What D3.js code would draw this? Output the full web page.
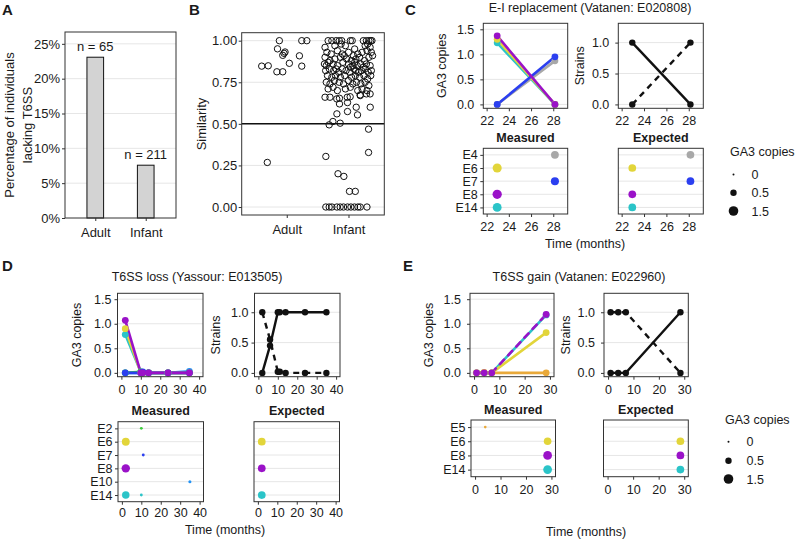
<!DOCTYPE html>
<html><head><meta charset="utf-8">
<script src="https://cdn.jsdelivr.net/npm/d3@7"></script>
<style>body{margin:0;background:#fff}</style>
</head><body>
<script>
// ---------------- DATA ----------------
// Panel A
const groupsA = ["Adult", "Infant"];
const pctLacking = [23.08, 7.58];
const nLabels = ["n = 65", "n = 211"];
const pctTicks = [0, 5, 10, 15, 20, 25];

// Panel B: [jitter offset (category units), similarity]
const simTicks = [0, 0.25, 0.5, 0.75, 1];
const adultSim = [
  [-0.12,1.0],[-0.15,0.951],[-0.044,0.924],[-0.065,0.912],[-0.028,0.932],[0.042,0.864],
  [0.205,0.909],[0.243,1.0],[0.325,1.0],[0.243,0.847],[-0.406,0.847],[-0.30,0.849],
  [-0.16,0.813],[-0.065,0.813],[-0.315,0.268]
];
const infantSim = [
  [-0.33,1.0],[-0.27,1.0],[-0.20,1.0],[-0.15,1.0],[-0.11,1.0],[0.03,1.0],[0.06,1.0],[0.24,1.0],[0.29,1.0],[0.33,1.0],[0.36,1.0],[0.38,1.0],
  [-0.38,0.96],[-0.22,0.97],[-0.12,0.98],[0.10,0.95],[0.27,0.97],[0.35,0.96],[0.31,0.98],[-0.05,0.97],
  [-0.35,0.93],[-0.28,0.92],[-0.10,0.92],[0.00,0.93],[0.08,0.91],[0.15,0.92],[0.22,0.93],[0.37,0.93],[0.30,0.94],[-0.18,0.94],
  [-0.38,0.90],[-0.30,0.88],[-0.22,0.89],[-0.13,0.90],[-0.03,0.89],[0.05,0.88],[0.12,0.89],[0.18,0.90],[0.26,0.88],[0.33,0.90],[0.39,0.91],[-0.07,0.91],
  [-0.39,0.86],[-0.36,0.85],[-0.33,0.87],[-0.25,0.86],[-0.18,0.85],[-0.09,0.87],[0.00,0.86],[0.07,0.85],[0.10,0.87],[0.14,0.85],[0.20,0.86],[0.24,0.84],[0.29,0.86],[0.35,0.85],[0.03,0.84],
  [-0.37,0.82],[-0.31,0.83],[-0.24,0.82],[-0.16,0.81],[-0.10,0.83],[-0.04,0.82],[0.02,0.81],[0.09,0.83],[0.12,0.82],[0.16,0.81],[0.21,0.82],[0.27,0.83],[0.32,0.81],[0.37,0.82],[-0.20,0.83],
  [-0.34,0.79],[-0.27,0.78],[-0.21,0.79],[-0.13,0.78],[-0.06,0.79],[0.05,0.78],[0.11,0.79],[0.18,0.78],[0.25,0.79],[0.31,0.77],[0.36,0.79],
  [-0.36,0.75],[-0.30,0.74],[-0.23,0.76],[-0.15,0.75],[-0.08,0.74],[0.00,0.76],[0.07,0.74],[0.13,0.75],[0.20,0.74],[0.27,0.75],[0.33,0.73],
  [-0.33,0.71],[-0.25,0.72],[-0.18,0.70],[-0.05,0.71],[0.03,0.72],[0.15,0.70],[0.22,0.71],[0.30,0.70],
  [-0.38,0.66],[-0.30,0.66],[-0.19,0.65],[-0.02,0.66],[0.19,0.67],[0.29,0.68],[0.35,0.68],[-0.146,0.654],[0.027,0.663],[0.19,0.674],
  [-0.146,0.62],[-0.016,0.628],[0.125,0.60],[0.352,0.60],[-0.188,0.56],[-0.016,0.574],[0.146,0.554],
  [-0.313,0.494],[-0.253,0.514],[-0.135,0.504],[0.325,0.468],[0.325,0.328],[-0.367,0.304],
  [-0.17,0.20],[-0.075,0.184],[0.016,0.094],[0.11,0.094],
  [-0.367,0],[-0.313,0],[-0.269,0],[-0.188,0],[-0.135,0],[-0.081,0],[-0.016,0],[0.039,0],[0.097,0],[0.153,0],[0.19,0],[0.299,0]
];

// Colours of the entities
const entityNames  = ["E2","E4","E5","E6","E7","E8","E10","E14"];
const entityColors = ["#3ccb3c","#a8a8a8","#e9a93a","#e2d53a","#2b3ff0","#9a12c8","#2393f5","#2bc4c8"];

// Panel C (E-I replacement)
const cTimes = [22.95, 28.15];
const cTimeTicks = [22, 24, 26, 28];
const cEntities = ["E14","E4","E6","E7","E8"];          // drawing order
const cGA3 = [[1.23,0],[0,0.87],[1.30,0],[0,0.95],[1.37,0]];
const cStrainSolid  = [1, 0];
const cStrainDashed = [0, 1];
const cRows = ["E4","E6","E7","E8","E14"];
const cExpected = [[0.85,0],[0,0.85],[0.85,0],[0,0.85],[0.85,0]]; // per cEntities

// Panel D (T6SS loss)
const dTimes = [2, 10, 11, 14, 24, 35];
const dTimeTicks = [0, 10, 20, 30, 40];
const dEntities = ["E10","E14","E2","E6","E7","E8"];
const dGA3 = [
  [0,0,0,0,0,0.03],
  [0.78,0.02,0,0,0,0],
  [0,0.02,0,0,0,0],
  [0.90,0,0,0,0,0],
  [0,0,0.02,0,0,0],
  [1.07,0,0,0,0,0]
];
const dStrainTimes  = [2, 6, 10, 11, 14, 24, 35];
const dStrainSolid  = [0, 0.45, 1, 1, 1, 1, 1];
const dStrainDashed = [1, 0.55, 0.02, 0.02, 0, 0, 0];
const dRows = ["E2","E6","E7","E8","E10","E14"];
const dExpected = [[0,0,0,0,0,0],[0.85,0,0,0,0,0],[0,0,0,0,0,0],[0.85,0,0,0,0,0],[0,0,0,0,0,0],[0.85,0,0,0,0,0]];

// Panel E (T6SS gain)
const eTimes = [1, 4, 7, 28.5];
const eTimeTicks = [0, 10, 20, 30];
const eEntities = ["E14","E5","E6","E8"];
const eGA3 = [[0,0,0,1.18],[0,0.01,0,0],[0,0,0,0.82],[0,0,0,1.19]];
const eStrainSolid  = [0, 0, 0, 1];
const eStrainDashed = [1, 1, 1, 0];
const eRows = ["E5","E6","E8","E14"];
const eExpected = [[0,0,0,0.85],[0,0,0,0],[0,0,0,0.85],[0,0,0,0.85]];

const ga3Ticks = [0, 0.5, 1.0, 1.5];
const strainTicks = [0, 0.5, 1.0];
const legendValues = [0, 0.5, 1.5];

// ---------------- DRAWING ----------------
const svg = d3.select("body").append("svg").attr("width", 800).attr("height", 539).style("display","block");
const FONT = "'Liberation Sans', Arial, Helvetica, sans-serif";
const INK = "#1a1a1a", TICKC = "#333", GRIDC = "#e6e6e6", BORDER = "#333";
const colorOf = d3.scaleOrdinal().domain(entityNames).range(entityColors);
const rSize = d3.scaleSqrt().domain([0, 1.5]).range([1, 4.8]);

function txt(x, y, s, o = {}) {
  return svg.append("text").attr("x", x).attr("y", y).text(s)
    .attr("font-family", FONT).attr("font-size", o.size || 12.5)
    .attr("font-weight", o.bold ? "bold" : "normal")
    .attr("text-anchor", o.anchor || "middle").attr("fill", o.fill || INK)
    .attr("transform", o.rot ? `rotate(-90,${x},${y})` : null);
}
function styleAxis(g, fs) {
  g.select(".domain").remove();
  g.selectAll("line").attr("stroke", TICKC);
  g.selectAll("text").attr("font-family", FONT).attr("font-size", fs).attr("fill", INK);
}
function frame(b) {
  svg.append("rect").attr("x", b.x0).attr("y", b.y0).attr("width", b.x1 - b.x0).attr("height", b.y1 - b.y0)
    .attr("fill", "none").attr("stroke", BORDER).attr("stroke-width", 1);
}
function hgrid(b, ys) {
  svg.append("g").selectAll("line").data(ys).join("line")
    .attr("x1", b.x0).attr("x2", b.x1).attr("y1", d => d).attr("y2", d => d)
    .attr("stroke", GRIDC).attr("stroke-width", 1);
}
function xAxis(b, sc, ticks, fmt, fs, pad) {
  const g = svg.append("g").attr("transform", `translate(0,${b.y1})`)
    .call(d3.axisBottom(sc).tickValues(ticks).tickFormat(fmt).tickSize(3).tickPadding(pad));
  styleAxis(g, fs);
}
function yAxis(b, sc, ticks, fmt, fs, pad) {
  const g = svg.append("g").attr("transform", `translate(${b.x0},0)`)
    .call(d3.axisLeft(sc).tickValues(ticks).tickFormat(fmt).tickSize(3).tickPadding(pad));
  styleAxis(g, fs);
}

// ---- Panel A ----
{
  const b = {x0: 65, x1: 176, y0: 32, y1: 218};
  const x = d3.scaleLinear().domain([0.4, 2.6]).range([b.x0, b.x1]);
  const y = d3.scaleLinear().domain([0, 26.7]).range([b.y1, b.y0]);
  hgrid(b, pctTicks.slice(1).map(y));
  const bw = (x(1.33) - x(1));
  svg.append("g").selectAll("rect").data(pctLacking).join("rect")
    .attr("x", (d, i) => x(i + 1) - bw / 2).attr("width", bw)
    .attr("y", d => y(d)).attr("height", d => y(0) - y(d))
    .attr("fill", "#d3d3d3").attr("stroke", "#111").attr("stroke-width", 1);
  pctLacking.forEach((d, i) => txt(x(i + 1), y(d) - 6, nLabels[i], {size: 13}));
  frame(b);
  const xa = svg.append("g").attr("transform", `translate(0,${b.y1})`)
    .call(d3.axisBottom(x).tickValues([1, 2]).tickFormat((d, i) => groupsA[i]).tickSize(3).tickPadding(7));
  styleAxis(xa, 13);
  yAxis(b, y, pctTicks, d => d + "%", 13, 2);
  txt(13.5, 125, "Percentage of individuals", {size: 13, rot: true});
  txt(31.5, 125, "lacking T6SS", {size: 13, rot: true});
  txt(2, 15, "A", {size: 15, bold: true, anchor: "start"});
}

// ---- Panel B ----
{
  const b = {x0: 241.7, x1: 384.3, y0: 32.7, y1: 215};
  const x = d3.scaleLinear().domain([0.27, 2.58]).range([b.x0, b.x1]);
  const y = d3.scaleLinear().domain([-0.048, 1.048]).range([b.y1, b.y0]);
  hgrid(b, simTicks.map(y));
  const pts = adultSim.map(d => [1 + d[0], d[1]]).concat(infantSim.map(d => [2 + d[0], d[1]]));
  svg.append("g").selectAll("circle").data(pts).join("circle")
    .attr("cx", d => x(d[0])).attr("cy", d => y(d[1])).attr("r", 3.2)
    .attr("fill", "none").attr("stroke", "#111").attr("stroke-width", 1);
  svg.append("line").attr("x1", b.x0).attr("x2", b.x1).attr("y1", y(0.5)).attr("y2", y(0.5))
    .attr("stroke", "#111").attr("stroke-width", 1.5);
  frame(b);
  const xa = svg.append("g").attr("transform", `translate(0,${b.y1})`)
    .call(d3.axisBottom(x).tickValues([1, 2]).tickFormat((d, i) => groupsA[i]).tickSize(3).tickPadding(7));
  styleAxis(xa, 13);
  yAxis(b, y, simTicks, d3.format(".2f"), 13, 1.5);
  txt(206.2, 124, "Similarity", {size: 13, rot: true});
  txt(189, 15, "B", {size: 15, bold: true, anchor: "start"});
}

// ---- generic panels for C, D, E ----
function ga3Panel(b, xDom, ticks, times, ents, vals, pad) {
  const x = d3.scaleLinear().domain(xDom).range([b.x0, b.x1]);
  const y = d3.scaleLinear().domain([-0.078, 1.62]).range([b.y1, b.y0]);
  hgrid(b, ga3Ticks.map(y));
  const g = svg.append("g");
  ents.forEach((e, i) => {
    const v = vals[i];
    for (let k = 0; k < times.length - 1; k++) {
      let overlap = false;
      for (let j = 0; j < i; j++) {
        const w = vals[j];
        if (Math.abs(w[k] - v[k]) < 0.05 && Math.abs(w[k + 1] - v[k + 1]) < 0.05 && Math.max(v[k], v[k + 1]) > 0.1) overlap = true;
      }
      g.append("line").attr("x1", x(times[k])).attr("y1", y(v[k])).attr("x2", x(times[k + 1])).attr("y2", y(v[k + 1]))
        .attr("stroke", colorOf(e)).attr("stroke-width", 2.6).attr("stroke-linecap", "round")
        .attr("stroke-dasharray", overlap ? "6,6" : null);
    }
  });
  ents.forEach((e, i) => {
    g.append("g").selectAll("circle").data(vals[i]).join("circle")
      .attr("cx", (d, k) => x(times[k])).attr("cy", d => y(d)).attr("r", 3.4).attr("fill", colorOf(e));
  });
  frame(b);
  xAxis(b, x, ticks, d3.format("d"), 12.5, 5);
  yAxis(b, y, ga3Ticks, d3.format(".1f"), 12.5, pad);
  txt(b.x0 - 37, (b.y0 + b.y1) / 2, "GA3 copies", {rot: true});
}
function strainPanel(b, xDom, ticks, times, solid, dashed, pad) {
  const x = d3.scaleLinear().domain(xDom).range([b.x0, b.x1]);
  const y = d3.scaleLinear().domain([-0.0625, 1.3125]).range([b.y1, b.y0]);
  hgrid(b, strainTicks.map(y));
  const line = d3.line().x((d, k) => x(times[k])).y(d => y(d));
  svg.append("path").attr("d", line(solid)).attr("fill", "none").attr("stroke", "#111").attr("stroke-width", 2.4);
  svg.append("path").attr("d", line(dashed)).attr("fill", "none").attr("stroke", "#111").attr("stroke-width", 2.4)
    .attr("stroke-dasharray", "6,5");
  [solid, dashed].forEach(s => svg.append("g").selectAll("circle").data(s).join("circle")
    .attr("cx", (d, k) => x(times[k])).attr("cy", d => y(d)).attr("r", 3.2).attr("fill", "#111"));
  frame(b);
  xAxis(b, x, ticks, d3.format("d"), 12.5, 5);
  yAxis(b, y, strainTicks, d3.format(".1f"), 12.5, pad);
  txt(b.x0 - 34.5, (b.y0 + b.y1) / 2, "Strains", {rot: true});
}
function dotPanel(b, xDom, ticks, times, ents, vals, rows, title, showY, pad) {
  const x = d3.scaleLinear().domain(xDom).range([b.x0, b.x1]);
  const y = d3.scalePoint().domain(rows).range([b.y0, b.y1]).padding(0.5);
  hgrid(b, rows.map(y));
  const pts = [];
  ents.forEach((e, i) => vals[i].forEach((v, k) => { if (v > 0) pts.push({e, t: times[k], v}); }));
  svg.append("g").selectAll("circle").data(pts).join("circle")
    .attr("cx", d => x(d.t)).attr("cy", d => y(d.e)).attr("r", d => rSize(d.v)).attr("fill", d => colorOf(d.e));
  frame(b);
  xAxis(b, x, ticks, d3.format("d"), 12.5, pad);
  if (showY) {
    const g = svg.append("g").attr("transform", `translate(${b.x0},0)`)
      .call(d3.axisLeft(y).tickSize(3).tickPadding(2.5));
    styleAxis(g, 12.5);
  }
  txt((b.x0 + b.x1) / 2, b.y0 - 6.5, title, {bold: true});
}
function sizeLegend(x0, yTitle, ys) {
  txt(x0, yTitle, "GA3 copies", {anchor: "start"});
  legendValues.forEach((v, i) => {
    svg.append("circle").attr("cx", x0 + 3.5).attr("cy", ys[i]).attr("r", rSize(v)).attr("fill", "#111");
    txt(x0 + 21.5, ys[i] + 4.5, String(v), {anchor: "start"});
  });
}

// ---- Panel C ----
txt(405, 15, "C", {size: 15, bold: true, anchor: "start"});
txt(590, 11.5, "E-I replacement (Vatanen: E020808)");
ga3Panel({x0: 483.3, x1: 567.7, y0: 23.3, y1: 108.3}, [21.7, 29.3], cTimeTicks, cTimes, cEntities, cGA3, 6);
strainPanel({x0: 618.3, x1: 703.3, y0: 23.3, y1: 108.3}, [21.7, 29.3], cTimeTicks, cTimes, cStrainSolid, cStrainDashed, 6);
dotPanel({x0: 483.3, x1: 567.7, y0: 148.3, y1: 214}, [21.7, 29.3], cTimeTicks, cTimes, cEntities, cGA3, cRows, "Measured", true, 5);
dotPanel({x0: 618.3, x1: 703.3, y0: 148.3, y1: 214}, [21.7, 29.3], cTimeTicks, cTimes, cEntities, cExpected, cRows, "Expected", false, 5);
txt(585, 248, "Time (months)");
sizeLegend(730, 156, [174.5, 192.7, 211]);

// ---- Panel D ----
txt(2, 271, "D", {size: 15, bold: true, anchor: "start"});
txt(197, 281, "T6SS loss (Yassour: E013505)");
ga3Panel({x0: 117.5, x1: 203, y0: 293.3, y1: 376.7}, [-2, 42], dTimeTicks, dTimes, dEntities, dGA3, 3);
strainPanel({x0: 254.5, x1: 340, y0: 293.3, y1: 376.7}, [-2, 42], dTimeTicks, dStrainTimes, dStrainSolid, dStrainDashed, 3);
dotPanel({x0: 118, x1: 203.5, y0: 421.7, y1: 501.7}, [-2, 42], dTimeTicks, dTimes, dEntities, dGA3, dRows, "Measured", true, 3);
dotPanel({x0: 254, x1: 339.5, y0: 421.7, y1: 501.7}, [-2, 42], dTimeTicks, dTimes, dEntities, dExpected, dRows, "Expected", false, 3);
txt(225, 534, "Time (months)");

// ---- Panel E ----
txt(403, 271, "E", {size: 15, bold: true, anchor: "start"});
txt(579, 281, "T6SS gain (Vatanen: E022960)");
ga3Panel({x0: 470, x1: 554, y0: 293.3, y1: 376.7}, [-1.6, 31.6], eTimeTicks, eTimes, eEntities, eGA3, 6);
strainPanel({x0: 604, x1: 688.3, y0: 293.3, y1: 376.7}, [-1.6, 31.6], eTimeTicks, eTimes, eStrainSolid, eStrainDashed, 6);
dotPanel({x0: 471, x1: 555.5, y0: 420, y1: 476.7}, [-1.6, 31.6], eTimeTicks, eTimes, eEntities, eGA3, eRows, "Measured", true, 5);
dotPanel({x0: 603.5, x1: 688.3, y0: 420, y1: 476.7}, [-1.6, 31.6], eTimeTicks, eTimes, eEntities, eExpected, eRows, "Expected", false, 5);
txt(586, 536, "Time (months)");
sizeLegend(725, 424, [441.7, 460.7, 479]);
</script>
</body></html>
